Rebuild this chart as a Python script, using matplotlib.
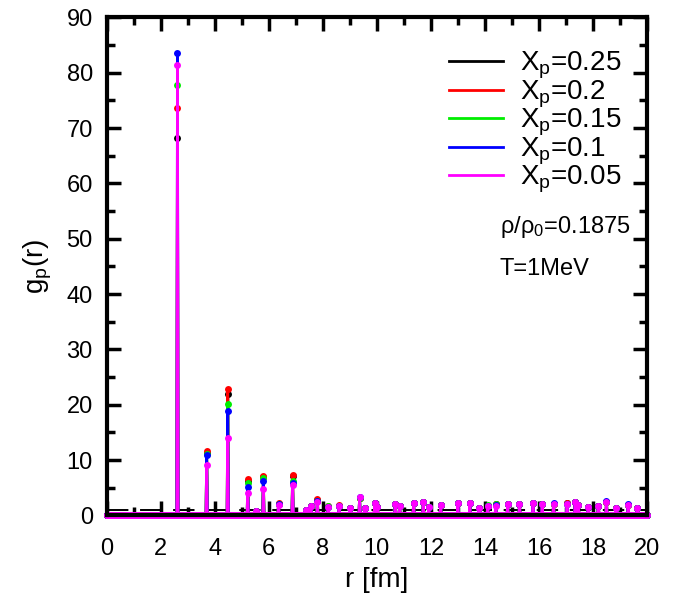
import numpy as np
import matplotlib
matplotlib.use("Agg")
import matplotlib.pyplot as plt
from matplotlib.ticker import MultipleLocator

plt.rcParams['font.family'] = ['Liberation Sans', 'DejaVu Sans']
plt.rcParams['mathtext.fontset'] = 'custom'
plt.rcParams['mathtext.rm'] = 'Liberation Sans'
plt.rcParams['mathtext.it'] = 'Liberation Sans:italic'

# ---- data ----
labels = ["X$_{\\rm p}$=0.25", "X$_{\\rm p}$=0.2", "X$_{\\rm p}$=0.15",
          "X$_{\\rm p}$=0.1", "X$_{\\rm p}$=0.05"]
colors = ["#000000", "#ff0000", "#00ee00", "#0000ff", "#ff00ff"]

# main peak positions (fm)
peak_r = [2.62, 3.70, 4.48, 5.22, 5.80, 6.87]
peak_025 = [68.3, 11.3, 21.9, 6.3, 7.0, 7.1]
peak_020 = [73.7, 11.6, 22.8, 6.6, 7.2, 7.4]
peak_015 = [77.8, 11.2, 20.1, 5.8, 6.7, 6.3]
peak_010 = [83.6, 11.0, 18.8, 5.1, 6.2, 5.9]
peak_005 = [81.4, 9.2, 14.0, 4.1, 4.8, 5.5]

# small shells beyond the main peaks
small_r = [5.53, 6.37, 7.35, 7.57, 7.81, 8.20, 8.61, 9.01, 9.35, 9.57,
           9.91, 10.03, 10.68, 10.83, 11.35, 11.72, 11.91, 12.35, 12.99, 13.44,
           13.79, 14.10, 14.41, 14.84, 15.27, 15.79, 16.13, 16.54, 17.03, 17.34,
           17.46, 17.83, 18.20, 18.50, 18.84, 19.30, 19.64]
small_025 = [0.9, 2.1, 1.0, 1.8, 2.8, 1.6, 1.8, 1.3, 3.1, 1.4,
             2.3, 1.6, 2.0, 1.7, 2.2, 2.4, 1.5, 1.9, 2.2, 2.2,
             1.3, 1.8, 2.0, 2.0, 2.0, 2.2, 2.0, 2.1, 2.2, 2.4,
             1.9, 1.6, 1.8, 2.4, 1.4, 1.9, 1.4]
small_020 = [0.9, 2.2, 1.0, 1.8, 2.9, 1.7, 1.9, 1.3, 3.2, 1.4,
             2.3, 1.6, 2.0, 1.7, 2.2, 2.5, 1.5, 1.9, 2.2, 2.3,
             1.3, 1.8, 2.1, 2.0, 2.0, 2.2, 2.0, 2.1, 2.3, 2.5,
             1.9, 1.6, 1.8, 2.4, 1.4, 1.9, 1.4]
small_015 = [0.9, 2.1, 1.0, 1.7, 2.7, 1.7, 1.8, 1.3, 3.2, 1.4,
             2.3, 1.6, 2.0, 1.7, 2.2, 2.5, 1.5, 1.9, 2.2, 2.2,
             1.3, 1.9, 2.0, 2.0, 2.1, 2.2, 2.0, 2.1, 2.1, 2.4,
             1.9, 1.6, 1.8, 2.4, 1.4, 1.9, 1.4]
small_010 = [0.9, 2.0, 1.0, 1.7, 2.6, 1.6, 1.8, 1.3, 3.3, 1.4,
             2.3, 1.6, 2.0, 1.7, 2.2, 2.5, 1.5, 1.9, 2.2, 2.2,
             1.3, 1.8, 1.9, 2.0, 2.1, 2.3, 2.0, 2.2, 2.0, 2.4,
             1.9, 1.6, 1.8, 2.6, 1.4, 2.0, 1.4]
small_005 = [0.9, 1.9, 1.0, 1.7, 2.4, 1.6, 1.8, 1.3, 3.3, 1.4,
             2.3, 1.6, 2.0, 1.7, 2.2, 2.5, 1.5, 1.9, 2.2, 2.2,
             1.3, 1.8, 1.8, 2.0, 2.0, 2.2, 2.0, 2.1, 2.0, 2.4,
             1.9, 1.6, 1.8, 2.4, 1.4, 1.9, 1.4]

peaks = [peak_025, peak_020, peak_015, peak_010, peak_005]
smalls = [small_025, small_020, small_015, small_010, small_005]

dr = 0.02
r = np.round(np.arange(0, 20 + dr / 2, dr), 4)

fig = plt.figure(figsize=(6.77, 5.99), dpi=100)
ax = fig.add_axes([0.1576, 0.1394, 0.7981, 0.8314])

for lab, col, pk, sm in zip(labels, colors, peaks, smalls):
    g = np.zeros_like(r)
    for rr, v in zip(peak_r + small_r, pk + sm):
        g[int(round(rr / dr))] = v
    ax.plot(r, g, '-', color=col, lw=2.0, marker='o', ms=5, mew=0,
            label=lab, clip_on=False, zorder=3)

ax.axhline(1.0, color='black', lw=1.4, ls=(0, (11, 6)), zorder=2)

ax.set_xlim(0, 20)
ax.set_ylim(0, 90)
ax.xaxis.set_major_locator(MultipleLocator(2))
ax.xaxis.set_minor_locator(MultipleLocator(1))
ax.yaxis.set_major_locator(MultipleLocator(10))
ax.yaxis.set_minor_locator(MultipleLocator(5))
ax.tick_params(which='both', direction='in', top=True, right=True,
               labelsize=17, width=2.5, pad=10)
ax.tick_params(axis='x', which='both', pad=16)
ax.tick_params(which='major', length=10)
ax.tick_params(which='minor', length=6)
for s in ax.spines.values():
    s.set_linewidth(3)
    s.set_zorder(5)

ax.set_xlabel("r [fm]", fontsize=20, labelpad=5)
ax.set_ylabel("g$_{\\rm p}$(r)", fontsize=20, labelpad=9)

leg = ax.legend(loc='upper left', bbox_to_anchor=(0.613, 0.957), frameon=False,
                fontsize=20, handlelength=1.95, handletextpad=0.62,
                labelspacing=-0.1, borderaxespad=0)
for h in leg.legend_handles:
    h.set_marker('')
    h.set_linewidth(2)

ax.text(0.727, 0.58, "ρ/ρ$_{\\rm 0}$=0.1875", transform=ax.transAxes, fontsize=17,
        va='center')
ax.text(0.727, 0.495, "T=1MeV", transform=ax.transAxes, fontsize=17, va='center')

fig.savefig("out.png", dpi=100)
